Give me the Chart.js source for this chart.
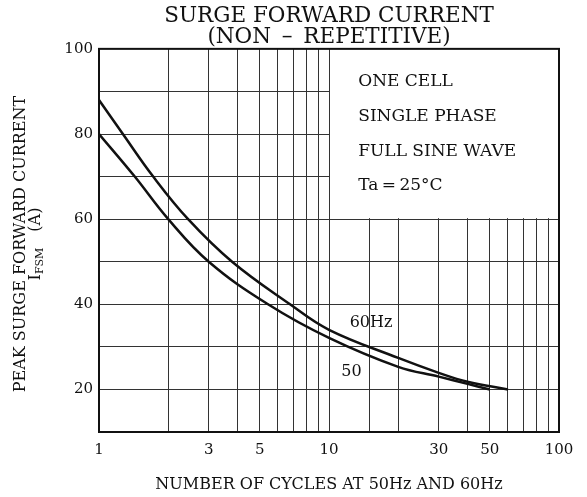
<!DOCTYPE html>
<html>
<head>
<meta charset="utf-8">
<script src="https://cdn.jsdelivr.net/npm/chart.js@4.4.1/dist/chart.umd.min.js"></script>
<style>
  html, body { margin: 0; padding: 0; background: #fff; }
  #wrap { width: 587px; height: 497px; }
</style>
</head>
<body>
<div id="wrap"><canvas id="chart"></canvas></div>
<script>
// values (cycles, peak current in A)
const cycles60 = [1, 1.27, 1.72, 2.44, 3.79, 6.77, 10, 20, 30, 40, 60];
const current60 = [88, 80, 70, 60, 50, 40, 34, 27.4, 23.9, 21.8, 20];
const cycles50 = [1, 1.43, 2, 3, 5.43, 10, 20, 30, 40, 50];
const current50 = [80, 70, 60, 50, 40, 32.1, 25.3, 23, 21.3, 20];

const xTickLabels = [1, 3, 5, 10, 30, 50, 100];
const yTickLabels = [20, 40, 60, 80, 100];
const noteLines = ['ONE CELL', 'SINGLE PHASE', 'FULL SINE WAVE', 'Ta\u2009=\u200925°C'];

const FONT = '"DejaVu Serif", "Liberation Serif", serif';
const INK = '#111';

function toPoints(xs, ys) {
  return xs.map((v, i) => ({ x: v, y: ys[i] }));
}

const decorations = {
  id: 'decorations',
  beforeDatasetsDraw(chart) {
    // blank the grid behind the condition box (x 10..100, y 60..100)
    const { ctx, chartArea: a, scales: { x, y } } = chart;
    const bx = x.getPixelForValue(10);
    const by = y.getPixelForValue(60);
    ctx.save();
    ctx.fillStyle = '#fff';
    ctx.fillRect(bx + 1, a.top, a.right - bx - 1, by - a.top - 1);
    ctx.restore();
  },
  afterDraw(chart) {
    const { ctx, chartArea: a, scales: { x, y } } = chart;
    ctx.save();
    ctx.strokeStyle = INK;
    ctx.lineWidth = 2;
    ctx.strokeRect(a.left, a.top, a.right - a.left, a.bottom - a.top);

    ctx.fillStyle = INK;
    ctx.font = '17px ' + FONT;
    ctx.textBaseline = 'middle';
    ctx.textAlign = 'left';
    const noteY = [92.2, 84, 75.8, 67.8];
    noteLines.forEach((t, i) => {
      ctx.fillText(t, x.getPixelForValue(13.4), y.getPixelForValue(noteY[i]));
    });
    ctx.font = '16px ' + FONT;
    ctx.fillText('60Hz', x.getPixelForValue(12.3), y.getPixelForValue(35.6));
    ctx.fillText('50', x.getPixelForValue(11.3), y.getPixelForValue(24.1));

    // rotated y axis title with subscript
    const cy = 244;
    ctx.save();
    ctx.translate(21, cy);
    ctx.rotate(-Math.PI / 2);
    ctx.textAlign = 'center';
    ctx.font = '16px ' + FONT;
    ctx.fillText('PEAK SURGE FORWARD CURRENT', 0, 0);
    ctx.restore();

    ctx.save();
    ctx.translate(36, cy);
    ctx.rotate(-Math.PI / 2);
    ctx.textAlign = 'left';
    const big = '16px ' + FONT, small = '11px ' + FONT;
    ctx.font = big;
    const wI = ctx.measureText('I').width;
    const wA = ctx.measureText('\u2002\u2002(A)').width;
    ctx.font = small;
    const wS = ctx.measureText('FSM').width;
    let px = -(wI + wS + wA) / 2;
    ctx.font = big;
    ctx.fillText('I', px, 0);
    px += wI;
    ctx.font = small;
    ctx.fillText('FSM', px, 4);
    px += wS;
    ctx.font = big;
    ctx.fillText('\u2002\u2002(A)', px, 0);
    ctx.restore();

    ctx.restore();
  }
};

const lineStyle = {
  borderColor: INK,
  borderWidth: 2.5,
  pointRadius: 0,
  fill: false,
  tension: 0.4
};

new Chart(document.getElementById('chart'), {
  type: 'line',
  data: {
    datasets: [
      { label: '60Hz', data: toPoints(cycles60, current60), ...lineStyle },
      { label: '50Hz', data: toPoints(cycles50, current50), ...lineStyle }
    ]
  },
  options: {
    responsive: true,
    maintainAspectRatio: false,
    animation: false,
    layout: { padding: { left: 0, right: 28, top: 0, bottom: 0 } },
    plugins: {
      legend: { display: false },
      tooltip: { enabled: false },
      title: {
        display: true,
        fullSize: false,
        text: ['SURGE FORWARD CURRENT', '(NON\u2002\u2013\u2002REPETITIVE)'],
        color: INK,
        font: { family: FONT, size: 21.5, weight: 'normal', lineHeight: 1.02 },
        padding: { top: 5, bottom: 0 }
      }
    },
    scales: {
      x: {
        type: 'logarithmic',
        min: 1,
        max: 100,
        afterFit: s => { s.height = 65; },
        grid: { color: '#333', lineWidth: 1, drawTicks: false },
        border: { color: INK, width: 2 },
        ticks: {
          autoSkip: false,
          maxRotation: 0,
          padding: 9,
          color: INK,
          font: { family: FONT, size: 15 },
          callback: v => xTickLabels.includes(Math.round(v * 1000) / 1000) ? String(v) : ''
        },
        title: {
          display: true,
          text: 'NUMBER OF CYCLES AT 50Hz AND 60Hz',
          color: INK,
          font: { family: FONT, size: 16 },
          padding: { top: 0, bottom: 3 }
        }
      },
      y: {
        min: 10,
        max: 100,
        afterFit: s => { s.width = 99; },
        grid: { color: '#333', lineWidth: 1, drawTicks: false },
        border: { color: INK, width: 2 },
        ticks: {
          stepSize: 10,
          padding: 6,
          color: INK,
          font: { family: FONT, size: 15 },
          callback: v => yTickLabels.includes(v) ? String(v) : ''
        }
      }
    }
  },
  plugins: [decorations]
});
</script>
</body>
</html>
